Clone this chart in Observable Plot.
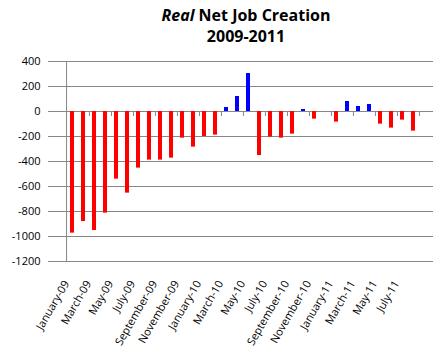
<!DOCTYPE html>
<html><head><meta charset="utf-8">
<script src="https://cdn.jsdelivr.net/npm/d3@7"></script>
<script src="https://cdn.jsdelivr.net/npm/@observablehq/plot@0.6"></script>
<style>
body{margin:0;background:#fff;width:444px;height:357px;overflow:hidden;font-family:"Open Sans",sans-serif}
#title{padding:5px 12px 0 60px;height:42px;text-align:center;font-weight:bold;font-size:16px;line-height:21px;color:#000}
#chart svg{display:block}
</style></head><body>
<div id="title"><i>Real</i> Net Job Creation<br>2009-2011</div>
<div id="chart"></div>
<script>
const categories = ["January-09","February-09","March-09","April-09","May-09","June-09","July-09","August-09","September-09","October-09","November-09","December-09",
  "January-10","February-10","March-10","April-10","May-10","June-10","July-10","August-10","September-10","October-10","November-10","December-10",
  "January-11","February-11","March-11","April-11","May-11","June-11","July-11","August-11"];
const values = [-973,-880,-952,-813,-541,-653,-453,-389,-389,-373,-213,-285,
  -200,-189,32,120,304,-352,-205,-213,-181,16,-61,0,
  -85,80,40,56,-101,-133,-69,-157];
const tickLabels = ["January-09","March-09","May-09","July-09","September-09","November-09","January-10","March-10","May-10","July-10","September-10","November-10","January-11","March-11","May-11","July-11"];
const yTicks = [-1200,-1000,-800,-600,-400,-200,0,200,400];

const data = categories.map((c,i)=>({month:c, value:values[i]}));
const W = 444, ML = 53, MR = 11;
const step = (W - ML - MR) / categories.length;
const grey = "#868686";
const chart = Plot.plot({
  width: W, height: 310, marginLeft: ML, marginRight: MR, marginTop: 14, marginBottom: 96,
  style: {fontFamily: "'Open Sans', sans-serif", fontSize: "11px", background: "#fff", color: "#000"},
  x: {domain: categories, paddingInner: 0.6, paddingOuter: 0.3, label: null},
  y: {domain: [-1200, 400], label: null},
  marks: [
    Plot.gridY(yTicks, {stroke: grey, strokeOpacity: 1}),
    Plot.barY(data, {filter: d => d.value < 0, x: "month", y: "value", fill: "#FF0000"}),
    Plot.barY(data, {filter: d => d.value >= 0, x: "month", y: "value", fill: "#0000FF"}),
    Plot.ruleX(categories.filter((d,i) => i % 2 === 1), {x: d => d, y1: 0, y2: 0, insetBottom: -5, dx: step/2, stroke: grey}),
    Plot.ruleX([categories[0]], {dx: -step/2, stroke: grey}),
    Plot.axisY(yTicks, {tickSize: 5, tickPadding: 8, stroke: grey, fill: "#000", label: null, tickFormat: d => String(d)}),
    Plot.axisX(tickLabels, {tickSize: 0, tickPadding: 20, dx: -6, tickRotate: -60, fill: "#000", label: null})
  ]
});
document.getElementById("chart").appendChild(chart);
</script>
</body></html>
